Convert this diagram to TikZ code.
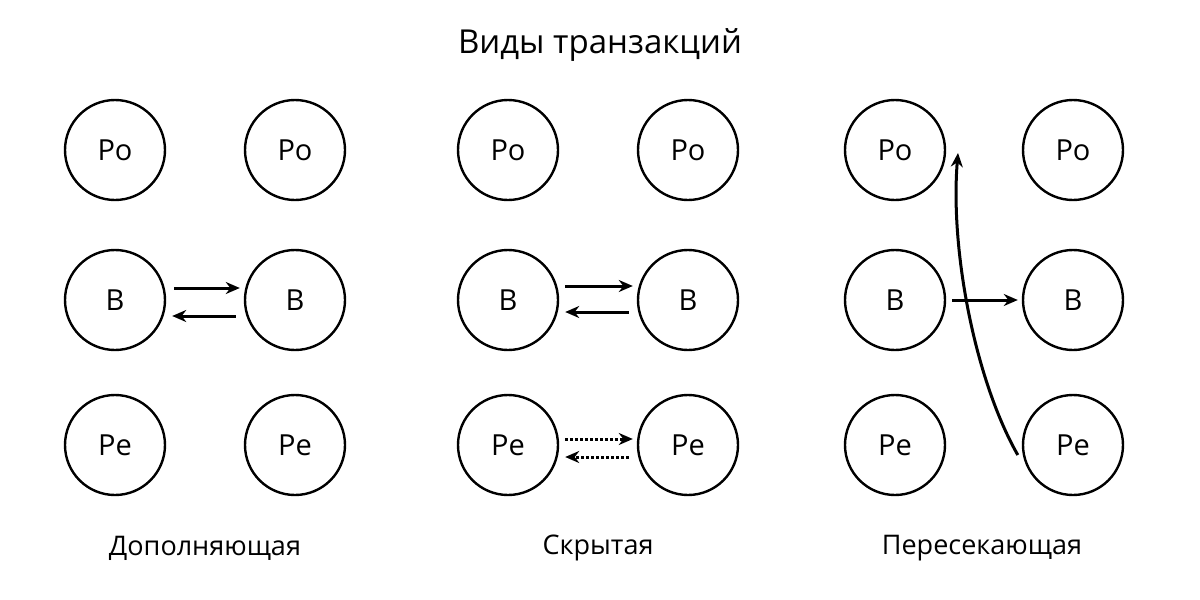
\documentclass[tikz,border=0pt]{standalone}
\usepackage{fontspec}
\setmainfont{Open Sans}
\usetikzlibrary{arrows.meta}
\begin{document}
\begin{tikzpicture}[x=0.5pt,y=-0.5pt,
  ent/.style={circle,draw,line width=1.2pt,minimum size=50pt,inner sep=0pt,font=\fontsize{14.5}{16}\selectfont},
  arr/.style={-{Stealth[length=7pt,width=6pt]},line width=1.5pt},
  lbl/.style={font=\fontsize{13.5}{16}\selectfont}]
\useasboundingbox (0,0) rectangle (1200,600);
\node[font=\fontsize{16.5}{19}\selectfont] (title) at (600,45) {Виды транзакций};
\foreach \c/\xa/\xb in {a/115/295,b/508/688,c/895/1073}{
  \node[ent] (\c po1) at (\xa,150) {Po};
  \node[ent] (\c po2) at (\xb,150) {Po};
  \node[ent] (\c b1) at (\xa,300) {B};
  \node[ent] (\c b2) at (\xb,300) {B};
  \node[ent] (\c pe1) at (\xa,445) {Pe};
  \node[ent] (\c pe2) at (\xb,445) {Pe};
}
\draw[arr] ([yshift=6pt,xshift=4pt]ab1.east) -- ([yshift=6pt,xshift=-2pt]ab2.west);
\draw[arr] ([yshift=-8pt,xshift=-4pt]ab2.west) -- ([yshift=-8pt,xshift=3pt]ab1.east);
\draw[arr] ([yshift=7pt,xshift=3pt]bb1.east) -- ([yshift=7pt,xshift=-2pt]bb2.west);
\draw[arr] ([yshift=-6pt,xshift=-4pt]bb2.west) -- ([yshift=-6pt,xshift=3pt]bb1.east);
\draw[arr,densely dotted] ([yshift=3pt,xshift=3pt]bpe1.east) -- ([yshift=3pt,xshift=-2pt]bpe2.west);
\draw[arr,densely dotted] ([yshift=-6pt,xshift=-4pt]bpe2.west) -- ([yshift=-6pt,xshift=3pt]bpe1.east);
\draw[arr] ([xshift=3pt]cb1.east) -- ([xshift=-2pt]cb2.west);
\coordinate (tip) at (958,153);
\draw[arr] ([xshift=-2pt,yshift=-5pt]cpe2.west) .. controls (975,380) and (950,250) .. (tip);
\node[lbl] (l1) at (205,548) {Дополняющая};
\node[lbl] (l2) at (598,548) {Скрытая};
\node[lbl] (l3) at (982,548) {Пересекающая};
\end{tikzpicture}
\end{document}
